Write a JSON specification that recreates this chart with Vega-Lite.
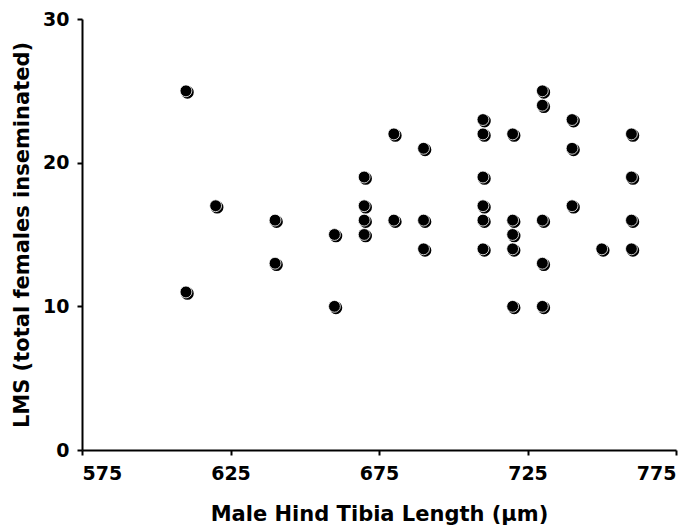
{
  "$schema": "https://vega.github.io/schema/vega-lite/v6.json",
  "autosize": "none",
  "width": 594,
  "height": 431,
  "padding": {"left": 82, "top": 19, "right": 20, "bottom": 81},
  "background": "white",
  "config": {
    "view": {"stroke": null},
    "font": "DejaVu Sans",
    "axis": {
      "grid": false,
      "domainColor": "black",
      "domainWidth": 2,
      "tickColor": "black",
      "tickWidth": 2,
      "tickSize": 5,
      "labelFont": "DejaVu Sans",
      "labelFontWeight": "bold",
      "labelFontSize": 19,
      "labelColor": "black",
      "titleFont": "DejaVu Sans",
      "titleFontWeight": "bold",
      "titleFontSize": 21,
      "titleColor": "black"
    }
  },
  "data": {
    "values": [
      {"tibia": 610, "lms": 25},
      {"tibia": 610, "lms": 11},
      {"tibia": 620, "lms": 17},
      {"tibia": 640, "lms": 16},
      {"tibia": 640, "lms": 13},
      {"tibia": 660, "lms": 15},
      {"tibia": 660, "lms": 10},
      {"tibia": 670, "lms": 19},
      {"tibia": 670, "lms": 17},
      {"tibia": 670, "lms": 16},
      {"tibia": 670, "lms": 15},
      {"tibia": 680, "lms": 22},
      {"tibia": 680, "lms": 16},
      {"tibia": 690, "lms": 21},
      {"tibia": 690, "lms": 16},
      {"tibia": 690, "lms": 14},
      {"tibia": 710, "lms": 23},
      {"tibia": 710, "lms": 22},
      {"tibia": 710, "lms": 19},
      {"tibia": 710, "lms": 17},
      {"tibia": 710, "lms": 16},
      {"tibia": 710, "lms": 14},
      {"tibia": 720, "lms": 22},
      {"tibia": 720, "lms": 16},
      {"tibia": 720, "lms": 15},
      {"tibia": 720, "lms": 14},
      {"tibia": 720, "lms": 10},
      {"tibia": 730, "lms": 25},
      {"tibia": 730, "lms": 24},
      {"tibia": 730, "lms": 16},
      {"tibia": 730, "lms": 13},
      {"tibia": 730, "lms": 10},
      {"tibia": 740, "lms": 23},
      {"tibia": 740, "lms": 21},
      {"tibia": 740, "lms": 17},
      {"tibia": 750, "lms": 14},
      {"tibia": 760, "lms": 22},
      {"tibia": 760, "lms": 19},
      {"tibia": 760, "lms": 16},
      {"tibia": 760, "lms": 14}
    ]
  },
  "encoding": {
    "x": {
      "field": "tibia",
      "type": "quantitative",
      "scale": {"domain": [575, 775], "nice": false, "zero": false},
      "axis": {
        "values": [575, 625, 675, 725, 775],
        "title": "Male Hind Tibia Length (µm)",
        "titlePadding": 20,
        "labelPadding": 9
      }
    },
    "y": {
      "field": "lms",
      "type": "quantitative",
      "scale": {"domain": [0, 30], "nice": false},
      "axis": {
        "values": [0, 10, 20, 30],
        "title": "LMS (total females inseminated)",
        "titlePadding": 10,
        "labelPadding": 8
      }
    }
  },
  "layer": [
    {
      "mark": {"type": "circle", "size": 160, "opacity": 1, "color": "black", "xOffset": 1.5, "yOffset": 1.5}
    },
    {
      "mark": {"type": "circle", "size": 140, "opacity": 1, "fill": "black", "stroke": "white", "strokeWidth": 0.8}
    }
  ]
}
